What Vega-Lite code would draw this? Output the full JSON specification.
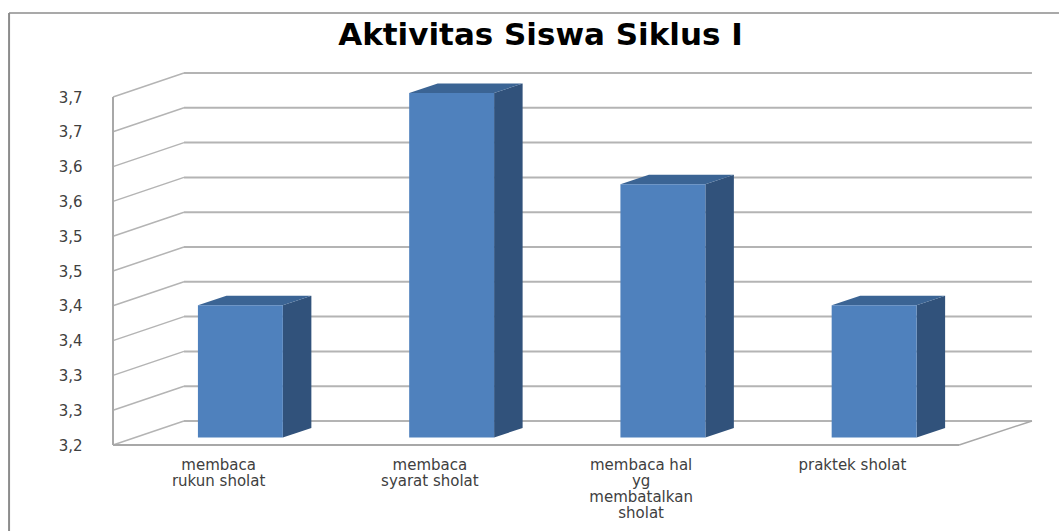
{
"$schema":"https://vega.github.io/schema/vega-lite/v6.json",
"width":919,"height":372,
"autosize":{"type":"none"},
"padding":{"left":113,"top":73,"right":27,"bottom":86},
"background":"white",
"view":{"stroke":null},
"config":{"axisY":{"tickCount":11,"labelExpr":"replace(format(datum.value+0.0001,'.1f'),'.',',')","domain":false,"ticks":false,"grid":false,"title":null,"labelPadding":31,"labelFont":"DejaVu Sans","labelFontSize":15,"labelColor":"#404040"}},
"title":{"text":"Aktivitas Siswa Siklus I","font":"DejaVu Sans","fontSize":31,"fontWeight":"bold","color":"#000000","anchor":"middle","frame":"group","dx":-32,"offset":-40},
"datasets":{
"one":[{"part":"frame"}],
"bars":[
{"i":0,"category":"membaca\nrukun sholat","value":3.39},
{"i":1,"category":"membaca\nsyarat sholat","value":3.695},
{"i":2,"category":"membaca hal\nyg\nmembatalkan\nsholat","value":3.564},
{"i":3,"category":"praktek sholat","value":3.39}
],
"levels":[{"level":3.2},{"level":3.25},{"level":3.3},{"level":3.35},{"level":3.4},{"level":3.45},{"level":3.5},{"level":3.55},{"level":3.6},{"level":3.65},{"level":3.7}]
},
"layer":[
{"data":{"name":"one"},"mark":{"type":"rule","color":"#8c8c8c","strokeWidth":2},
 "encoding":{
  "x":{"datum":-0.492,"type":"quantitative","scale":{"domain":[0,4.3503],"nice":false,"zero":false},"axis":null},
  "y":{"datum":3.0764,"type":"quantitative","scale":{"domain":[3.2,3.7345],"nice":false,"zero":false}},
  "y2":{"datum":3.8207}}},
{"data":{"name":"one"},"mark":{"type":"rule","color":"#8c8c8c","strokeWidth":1.5},
 "encoding":{
  "x":{"datum":-0.492,"type":"quantitative","axis":null},
  "x2":{"datum":4.478},
  "y":{"datum":3.8207,"type":"quantitative"}}},
{"data":{"name":"levels"},
 "transform":[{"calculate":"datum.level+0.0345","as":"back"}],
 "mark":{"type":"rule","color":"#b4b4b4","strokeWidth":1.5},
 "encoding":{
  "x":{"datum":0,"type":"quantitative","axis":null},
  "x2":{"datum":0.336},
  "y":{"field":"level","type":"quantitative"},
  "y2":{"field":"back"}}},
{"data":{"name":"levels"},
 "transform":[{"calculate":"datum.level+0.0345","as":"back"}],
 "mark":{"type":"rule","color":"#b4b4b4","strokeWidth":2},
 "encoding":{
  "x":{"datum":0.336,"type":"quantitative","axis":null},
  "x2":{"datum":4.35},
  "y":{"field":"back","type":"quantitative"}}},
{"data":{"name":"one"},"mark":{"type":"rule","color":"#a8a8a8","strokeWidth":2},
 "encoding":{
  "x":{"datum":0,"type":"quantitative","axis":null},
  "y":{"datum":3.2,"type":"quantitative"},
  "y2":{"datum":3.7}}},
{"data":{"name":"one"},"mark":{"type":"rule","color":"#a8a8a8","strokeWidth":2},
 "encoding":{
  "x":{"datum":0,"type":"quantitative","axis":null},
  "x2":{"datum":4.005},
  "y":{"datum":3.2,"type":"quantitative"}}},
{"data":{"name":"one"},"mark":{"type":"rule","color":"#a8a8a8","strokeWidth":1.5},
 "encoding":{
  "x":{"datum":4.005,"type":"quantitative","axis":null},
  "x2":{"datum":4.35},
  "y":{"datum":3.2,"type":"quantitative"},
  "y2":{"datum":3.2345}}},
{"data":{"name":"bars"},
 "transform":[
  {"calculate":"[0,1]","as":"t"},{"flatten":["t"]},
  {"calculate":"datum.i+0.804+datum.t*0.135","as":"sx"},
  {"calculate":"datum.value+0.0108+datum.t*0.01365","as":"sy"},
  {"calculate":"3.2108+datum.t*0.01365","as":"sy2"}],
 "mark":{"type":"area","orient":"vertical","color":"#31527b","opacity":1},
 "encoding":{
  "x":{"field":"sx","type":"quantitative","axis":null},
  "y":{"field":"sy","type":"quantitative","stack":null},
  "y2":{"field":"sy2"},
  "detail":{"field":"i"}}},
{"data":{"name":"bars"},
 "transform":[
  {"calculate":"[0,1]","as":"t"},{"flatten":["t"]},
  {"calculate":"datum.i+0.402+datum.t*0.135","as":"tx"},
  {"calculate":"datum.i+0.804+datum.t*0.135","as":"tx2"},
  {"calculate":"datum.value+0.0108+datum.t*0.01365","as":"ty"}],
 "mark":{"type":"area","orient":"horizontal","color":"#3b6494","opacity":1},
 "encoding":{
  "y":{"field":"ty","type":"quantitative"},
  "x":{"field":"tx","type":"quantitative","axis":null,"stack":null},
  "x2":{"field":"tx2"},
  "detail":{"field":"i"}}},
{"data":{"name":"bars"},
 "transform":[
  {"calculate":"datum.i+0.402","as":"fx"},
  {"calculate":"datum.i+0.804","as":"fx2"},
  {"calculate":"datum.value+0.0108","as":"fy"}],
 "mark":{"type":"rect","color":"#4f81bd"},
 "encoding":{
  "x":{"field":"fx","type":"quantitative","axis":null},
  "x2":{"field":"fx2"},
  "y":{"field":"fy","type":"quantitative"},
  "y2":{"datum":3.2108}}},
{"data":{"name":"bars"},
 "transform":[{"calculate":"datum.i+0.5","as":"cx"}],
 "mark":{"type":"text","baseline":"top","align":"center","dy":13,"lineBreak":"\n","lineHeight":16,"font":"DejaVu Sans","fontSize":15,"color":"#404040"},
 "encoding":{
  "x":{"field":"cx","type":"quantitative","axis":null},
  "y":{"datum":3.2,"type":"quantitative"},
  "text":{"field":"category"}}}
]
}
